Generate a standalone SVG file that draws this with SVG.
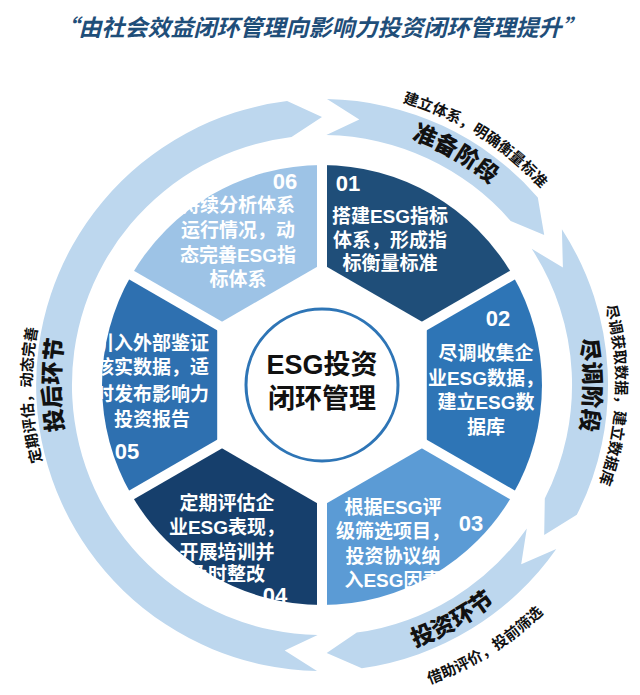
<svg xmlns="http://www.w3.org/2000/svg" width="640" height="695" viewBox="0 0 640 695">
<style>
.ring{fill:#bdd7ee}
.seg text{fill:#fff;font-family:"Liberation Sans","Noto Sans CJK SC",sans-serif;font-weight:bold;font-size:19px;text-anchor:middle}
.seg .num{font-size:22px}
.big{font-family:"Noto Sans CJK SC",sans-serif;font-weight:900;font-size:23px;fill:#111}
.small{font-family:"Noto Sans CJK SC",sans-serif;font-weight:bold;font-size:15px;fill:#111}
</style>
<defs>
<path id="p1" d="M232.4,138.7 A262,262 0 0 1 580,339.5"/>
<path id="p2" d="M231.2,105.4 A294,294 0 0 1 613.1,344.1"/>
<path id="p3" d="M490.4,184.3 A262,262 0 0 1 490.4,585.7"/>
<path id="p4" d="M518.7,166.6 A294,294 0 0 1 503.1,616.7"/>
<path id="p5" d="M222.4,644.5 A278,278 0 0 0 594.9,438"/>
<path id="p6" d="M223.7,687.4 A318,318 0 0 0 636.9,429.3"/>
<path id="p7" d="M153.6,585.7 A262,262 0 0 1 153.6,184.3"/>
<path id="p8" d="M143.5,613.5 A290,290 0 0 1 128,169.5"/>
</defs>
<rect width="640" height="695" fill="#fff"/>
<text x="320" y="36" text-anchor="middle" font-family="Noto Sans CJK SC,sans-serif" font-weight="bold" font-style="italic" font-size="23" fill="#1f4e79">“由社会效益闭环管理向影响力投资闭环管理提升”</text>
<g id="connectors">
<path class="ring" d="M317,670.9 A286,286 0 0 1 287.1,101.1 L322,117 L291.5,136.9 A250,250 0 0 0 317.6,635 L284.7,650.4 Z"/>
<path class="ring" d="M327,99.1 A286,286 0 0 1 537.8,197.4 L544.2,235.1 L510.7,221 A250,250 0 0 0 326.4,135 L359.3,119.6 Z"/>
<path class="ring" d="M561.9,229.2 A286,286 0 0 1 576.8,514.8 L544.2,534.9 L544.8,498.5 A250,250 0 0 0 531.7,248.8 L562.9,267.5 Z"/>
<path class="ring" d="M556.3,549 A286,286 0 0 1 361.8,668.2 L326.7,653 L356.8,632.6 A250,250 0 0 0 526.8,528.4 L521.2,564.3 Z"/>
</g>
<g id="labels">
<text class="big"><textPath href="#p1" startOffset="50%" text-anchor="middle">准备阶段</textPath></text>
<text class="small"><textPath href="#p2" startOffset="50%" text-anchor="middle">建立体系，明确衡量标准</textPath></text>
<text class="big"><textPath href="#p3" startOffset="50%" text-anchor="middle">尽调阶段</textPath></text>
<text class="small"><textPath href="#p4" startOffset="50%" text-anchor="middle">尽调获取数据，建立数据库</textPath></text>
<text class="big"><textPath href="#p5" startOffset="50%" text-anchor="middle">投资环节</textPath></text>
<text class="small"><textPath href="#p6" startOffset="50%" text-anchor="middle">借助评价，投前筛选</textPath></text>
<text class="big"><textPath href="#p7" startOffset="50%" text-anchor="middle">投后环节</textPath></text>
<text class="small"><textPath href="#p8" startOffset="50%" text-anchor="middle">定期评估，动态完善</textPath></text>
</g>
<g class="seg">
<g id="s01"><path fill="#1f4e79" d="M322,385 L322,165 A220,220 0 0 1 512.5,275 Z"/></g>
<g id="s02"><path fill="#2e75b6" d="M322,385 L512.5,275 A220,220 0 0 1 512.5,495 Z"/></g>
<g id="s03"><path fill="#5b9bd5" d="M322,385 L512.5,495 A220,220 0 0 1 322,605 Z"/></g>
<g id="s04"><path fill="#163f6c" d="M322,385 L322,605 A220,220 0 0 1 131.5,495 Z"/></g>
<g id="s05"><path fill="#2e70b0" d="M322,385 L131.5,495 A220,220 0 0 1 131.5,275 Z"/></g>
<g id="s06"><path fill="#9dc3e6" d="M322,385 L131.5,275 A220,220 0 0 1 322,165 Z"/></g>
<g stroke="#fff" stroke-width="10">
<line x1="322" y1="385" x2="322" y2="160"/><line x1="322" y1="385" x2="322" y2="610"/>
<line x1="322" y1="385" x2="517" y2="272.5"/><line x1="322" y1="385" x2="517" y2="497.5"/>
<line x1="322" y1="385" x2="127" y2="272.5"/><line x1="322" y1="385" x2="127" y2="497.5"/>
</g>
<polygon fill="#fff" points="322,264 426.8,324.5 426.8,445.5 322,506 217.2,445.5 217.2,324.5"/>
<text class="num" x="348" y="191">01</text>
<text x="390" y="223">搭建ESG指标</text><text x="390" y="247">体系，形成指</text><text x="390" y="270">标衡量标准</text>
<text class="num" x="498" y="326">02</text>
<text x="486" y="360">尽调收集企</text><text x="486" y="385">业ESG数据，</text><text x="486" y="409">建立ESG数</text><text x="486" y="434">据库</text>
<text class="num" x="471" y="531">03</text>
<text x="393" y="514">根据ESG评</text><text x="393" y="538">级筛选项目，</text><text x="393" y="563">投资协议纳</text><text x="393" y="587">入ESG因素</text>
<text class="num" x="275" y="603">04</text>
<text x="227" y="510">定期评估企</text><text x="227" y="534">业ESG表现，</text><text x="227" y="559">开展培训并</text><text x="227" y="581">及时整改</text>
<text class="num" x="127" y="459">05</text>
<text x="152" y="350">引入外部鉴证</text><text x="152" y="374">核实数据，适</text><text x="152" y="401">时发布影响力</text><text x="152" y="426">投资报告</text>
<text class="num" x="285" y="189">06</text>
<text x="238" y="212">持续分析体系</text><text x="238" y="237">运行情况，动</text><text x="238" y="262">态完善ESG指</text><text x="238" y="286">标体系</text>
</g>
<g id="center">
<circle cx="322" cy="385" r="76" fill="#fff" stroke="#2e75b6" stroke-width="3"/>
<text x="322" y="374" text-anchor="middle" font-family="Liberation Sans,Noto Sans CJK SC,sans-serif" font-weight="bold" font-size="27" fill="#111">ESG投资</text>
<text x="322" y="408" text-anchor="middle" font-family="Noto Sans CJK SC,sans-serif" font-weight="bold" font-size="27" fill="#111">闭环管理</text>
</g>
</svg>
